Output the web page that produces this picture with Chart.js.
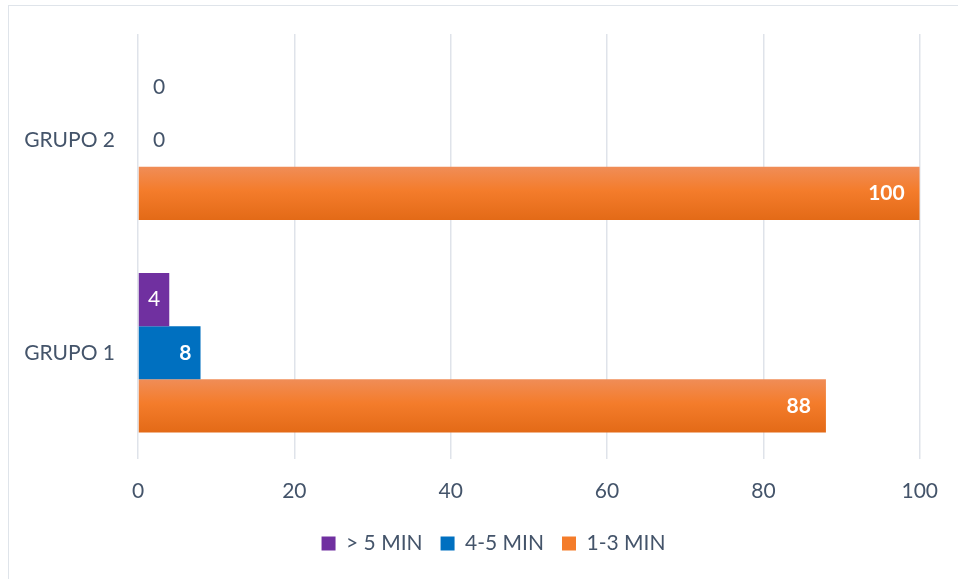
<!doctype html>
<html>
<head>
<meta charset="UTF-8">
<title>GRUPO 1 / GRUPO 2</title>
<style>
  body { margin: 0; background: #fff; }
  #frame { position: absolute; left: 8px; top: 5px; width: 1000px; height: 1000px; border: 1.5px solid #dfe4ea; }
  #wrap { position: absolute; left: 0; top: 0; width: 958px; height: 579px; }
</style>
</head>
<body>
<div id="frame"></div>
<div id="wrap"><canvas id="grafico"></canvas></div>
<script src="https://cdn.jsdelivr.net/npm/chart.js@4/dist/chart.umd.min.js"></script>
<script>
// datos
var grupos = ['GRUPO 2', 'GRUPO 1'];
var mas5 = [0, 4];      // > 5 MIN
var de4a5 = [0, 8];     // 4-5 MIN
var de1a3 = [100, 88];  // 1-3 MIN
var ticksX = [0, 20, 40, 60, 80, 100];

var texto = '#44546a';
var fuente = 'Lato, "Open Sans", sans-serif';

// naranja con degradado vertical
function naranja(ctx) {
  var el = ctx.element;
  if (!el || el.height == null || isNaN(el.y)) return '#f47c2a';
  var g = ctx.chart.ctx.createLinearGradient(0, el.y - el.height / 2, 0, el.y + el.height / 2);
  g.addColorStop(0, '#f08d57');
  g.addColorStop(0.45, '#f47c2b');
  g.addColorStop(1, '#e36a17');
  return g;
}

// etiquetas de datos
var etiquetas = {
  id: 'etiquetas',
  afterDatasetsDraw: function(chart) {
    var c = chart.ctx;
    chart.data.datasets.forEach(function(ds, i) {
      var meta = chart.getDatasetMeta(i);
      meta.data.forEach(function(bar, j) {
        var v = ds.data[j];
        c.save();
        c.textBaseline = 'middle';
        if (v === 0) {
          c.font = '21px ' + fuente;
          c.fillStyle = texto;
          c.textAlign = 'left';
          c.fillText(String(v), bar.base + 15, bar.y);
        } else {
          c.font = (ds.pesoEtiqueta || 'bold') + ' 21px ' + fuente;
          c.fillStyle = '#ffffff';
          var ancho = bar.x - bar.base;
          var w = c.measureText(String(v)).width;
          if (ancho < w + 30) {
            c.textAlign = 'center';
            c.fillText(String(v), (bar.x + bar.base) / 2, bar.y);
          } else {
            c.textAlign = 'right';
            c.fillText(String(v), bar.x - (ancho < 100 ? 9 : 15), bar.y);
          }
        }
        c.restore();
      });
    });
  }
};

// desplaza la leyenda un poco a la derecha (centrada bajo el area del grafico)
var leyendaDerecha = {
  id: 'leyendaDerecha',
  afterLayout: function(chart) {
    if (chart.legend) chart.legend.left += 66;
  }
};

var grafico = new Chart(document.getElementById('grafico'), {
  type: 'bar',
  data: {
    labels: grupos,
    datasets: [
      { label: '> 5 MIN', data: mas5, backgroundColor: '#7030a0', pesoEtiqueta: 'normal' },
      { label: '4-5 MIN', data: de4a5, backgroundColor: '#0070c0' },
      { label: '1-3 MIN', data: de1a3, backgroundColor: naranja }
    ]
  },
  options: {
    indexAxis: 'y',
    responsive: true,
    maintainAspectRatio: false,
    animation: false,
    categoryPercentage: 0.75,
    barPercentage: 1.0,
    layout: { padding: { top: 34, right: 37, bottom: 15, left: 0 } },
    scales: {
      x: {
        min: 0, max: 100,
        afterBuildTicks: function(s) { s.ticks = ticksX.map(function(v) { return { value: v }; }); },
        afterFit: function(s) { s.height = 56; },
        grid: { color: '#dfe3ea', lineWidth: 1.5, drawTicks: false },
        border: { display: false },
        ticks: { color: texto, font: { family: fuente, size: 21 }, padding: 20 }
      },
      y: {
        afterFit: function(s) { s.width = 138; },
        grid: { display: false },
        border: { display: false },
        ticks: { color: texto, font: { family: fuente, size: 21 }, padding: 15 }
      }
    },
    plugins: {
      legend: {
        position: 'bottom',
        labels: {
          color: texto,
          font: { family: fuente, size: 21 },
          boxWidth: 14, boxHeight: 14,
          padding: 18,
          generateLabels: function(chart) {
            var fill = ['#7030a0', '#0070c0', '#f47c2a'];
            return chart.data.datasets.map(function(ds, i) {
              return { text: ds.label, fillStyle: fill[i], strokeStyle: fill[i], lineWidth: 0, datasetIndex: i, fontColor: texto };
            });
          }
        }
      },
      tooltip: { enabled: false }
    }
  },
  plugins: [etiquetas, leyendaDerecha]
});
grafico.update('none');
</script>
</body>
</html>
